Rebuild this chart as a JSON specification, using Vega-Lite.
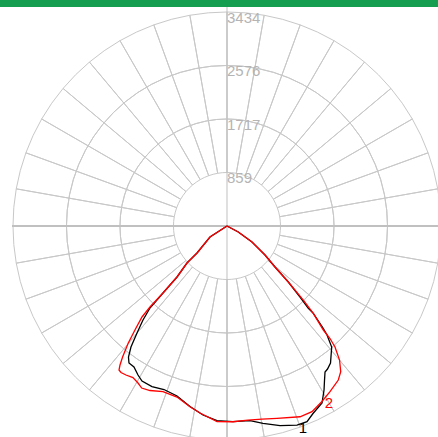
{
  "$schema": "https://vega.github.io/schema/vega-lite/v6.json",
  "width": 438,
  "height": 437,
  "autosize": {"type": "none"},
  "padding": 0,
  "background": "#ffffff",
  "config": {"view": {"stroke": null}, "axis": {"disable": true}},
  "datasets": {
    "wedges": [{"k":1},{"k":1},{"k":1},{"k":1},{"k":1},{"k":1},{"k":1},{"k":1},{"k":1},{"k":1},{"k":1},{"k":1},{"k":1},{"k":1},{"k":1},{"k":1},{"k":1},{"k":1},{"k":1},{"k":1},{"k":1},{"k":1},{"k":1},{"k":1},{"k":1},{"k":1},{"k":1},{"k":1},{"k":1},{"k":1},{"k":1},{"k":1},{"k":1},{"k":1},{"k":1},{"k":1}],
    "rings": [{"r": 1717}, {"r": 2576}],
    "ringLabels": [{"v": 859, "label": "859"}, {"v": 1717, "label": "1717"}, {"v": 2576, "label": "2576"}, {"v": 3434, "label": "3434"}],
    "curves": [
      {"s":"1","i":1,"x":0,"y":0},
      {"s":"1","i":2,"x":-273,"y":-177},
      {"s":"1","i":3,"x":-481,"y":-433},
      {"s":"1","i":4,"x":-642,"y":-594},
      {"s":"1","i":5,"x":-802,"y":-818},
      {"s":"1","i":6,"x":-1027,"y":-1075},
      {"s":"1","i":7,"x":-1236,"y":-1316},
      {"s":"1","i":8,"x":-1348,"y":-1509},
      {"s":"1","i":9,"x":-1444,"y":-1717},
      {"s":"1","i":10,"x":-1541,"y":-1942},
      {"s":"1","i":11,"x":-1581,"y":-2103},
      {"s":"1","i":12,"x":-1573,"y":-2199},
      {"s":"1","i":13,"x":-1493,"y":-2263},
      {"s":"1","i":14,"x":-1428,"y":-2391},
      {"s":"1","i":15,"x":-1364,"y":-2488},
      {"s":"1","i":16,"x":-1204,"y":-2576},
      {"s":"1","i":17,"x":-1011,"y":-2624},
      {"s":"1","i":18,"x":-802,"y":-2728},
      {"s":"1","i":19,"x":-594,"y":-2897},
      {"s":"1","i":20,"x":-385,"y":-3033},
      {"s":"1","i":21,"x":-160,"y":-3122},
      {"s":"1","i":22,"x":96,"y":-3138},
      {"s":"1","i":23,"x":369,"y":-3122},
      {"s":"1","i":24,"x":578,"y":-3167},
      {"s":"1","i":25,"x":851,"y":-3202},
      {"s":"1","i":26,"x":1123,"y":-3194},
      {"s":"1","i":27,"x":1284,"y":-3141},
      {"s":"1","i":28,"x":1380,"y":-3009},
      {"s":"1","i":29,"x":1525,"y":-2841},
      {"s":"1","i":30,"x":1557,"y":-2632},
      {"s":"1","i":31,"x":1565,"y":-2472},
      {"s":"1","i":32,"x":1573,"y":-2343},
      {"s":"1","i":33,"x":1613,"y":-2295},
      {"s":"1","i":34,"x":1661,"y":-2199},
      {"s":"1","i":35,"x":1680,"y":-1942},
      {"s":"1","i":36,"x":1605,"y":-1749},
      {"s":"1","i":37,"x":1541,"y":-1637},
      {"s":"1","i":38,"x":1385,"y":-1401},
      {"s":"1","i":39,"x":1305,"y":-1321},
      {"s":"1","i":40,"x":1172,"y":-1140},
      {"s":"1","i":41,"x":984,"y":-899},
      {"s":"1","i":42,"x":770,"y":-658},
      {"s":"1","i":43,"x":610,"y":-465},
      {"s":"1","i":44,"x":401,"y":-257},
      {"s":"1","i":45,"x":181,"y":-96},
      {"s":"1","i":46,"x":0,"y":0},
      {"s":"2","i":1,"x":0,"y":0},
      {"s":"2","i":2,"x":-273,"y":-177},
      {"s":"2","i":3,"x":-481,"y":-433},
      {"s":"2","i":4,"x":-642,"y":-594},
      {"s":"2","i":5,"x":-802,"y":-818},
      {"s":"2","i":6,"x":-1027,"y":-1075},
      {"s":"2","i":7,"x":-1236,"y":-1300},
      {"s":"2","i":8,"x":-1364,"y":-1460},
      {"s":"2","i":9,"x":-1477,"y":-1669},
      {"s":"2","i":10,"x":-1584,"y":-1878},
      {"s":"2","i":11,"x":-1674,"y":-2098},
      {"s":"2","i":12,"x":-1717,"y":-2231},
      {"s":"2","i":13,"x":-1733,"y":-2311},
      {"s":"2","i":14,"x":-1701,"y":-2351},
      {"s":"2","i":15,"x":-1621,"y":-2391},
      {"s":"2","i":16,"x":-1509,"y":-2432},
      {"s":"2","i":17,"x":-1428,"y":-2520},
      {"s":"2","i":18,"x":-1369,"y":-2600},
      {"s":"2","i":19,"x":-1236,"y":-2640},
      {"s":"2","i":20,"x":-1027,"y":-2659},
      {"s":"2","i":21,"x":-802,"y":-2745},
      {"s":"2","i":22,"x":-594,"y":-2900},
      {"s":"2","i":23,"x":-433,"y":-3001},
      {"s":"2","i":24,"x":-160,"y":-3138},
      {"s":"2","i":25,"x":96,"y":-3141},
      {"s":"2","i":26,"x":337,"y":-3114},
      {"s":"2","i":27,"x":562,"y":-3098},
      {"s":"2","i":28,"x":802,"y":-3086},
      {"s":"2","i":29,"x":1172,"y":-3061},
      {"s":"2","i":30,"x":1364,"y":-2980},
      {"s":"2","i":31,"x":1520,"y":-2820},
      {"s":"2","i":32,"x":1653,"y":-2659},
      {"s":"2","i":33,"x":1786,"y":-2472},
      {"s":"2","i":34,"x":1825,"y":-2338},
      {"s":"2","i":35,"x":1806,"y":-2151},
      {"s":"2","i":36,"x":1733,"y":-1942},
      {"s":"2","i":37,"x":1653,"y":-1806},
      {"s":"2","i":38,"x":1546,"y":-1669},
      {"s":"2","i":39,"x":1385,"y":-1401},
      {"s":"2","i":40,"x":1225,"y":-1188},
      {"s":"2","i":41,"x":984,"y":-899},
      {"s":"2","i":42,"x":770,"y":-658},
      {"s":"2","i":43,"x":610,"y":-465},
      {"s":"2","i":44,"x":401,"y":-257},
      {"s":"2","i":45,"x":181,"y":-96},
      {"s":"2","i":46,"x":0,"y":0}
    ],
    "curveLabels": [{"s": "1", "x": 1220, "y": -3235}, {"s": "2", "x": 1637, "y": -2841}]
  },
  "layer": [
    {
      "data": {"name": "wedges"},
      "mark": {"type": "arc", "filled": false, "stroke": "#c8c8c8", "strokeWidth": 1},
      "encoding": {
        "x": {"datum": 0, "type": "quantitative", "scale": {"domain": [-3642.6, 3385.9], "nice": false, "zero": false}},
        "y": {"datum": 0, "type": "quantitative", "scale": {"domain": [-3385.9, 3626.6], "nice": false, "zero": false}},
        "theta": {"field": "k", "type": "quantitative", "stack": true},
        "radius": {"datum": 3434, "type": "quantitative", "scale": {"type": "linear", "domain": [0, 3434], "range": [0, 214], "zero": true, "nice": false}},
        "radius2": {"datum": 859}
      }
    },
    {
      "data": {"name": "rings"},
      "mark": {"type": "arc", "filled": false, "stroke": "#c8c8c8", "strokeWidth": 1, "theta": 0, "theta2": 6.2832},
      "encoding": {
        "x": {"datum": 0, "type": "quantitative"},
        "y": {"datum": 0, "type": "quantitative"},
        "radius": {"field": "r", "type": "quantitative"},
        "radius2": {"field": "r"}
      }
    },
    {
      "data": {"values": [{}]},
      "mark": {"type": "rule", "stroke": "#c0c0c0", "strokeWidth": 2},
      "encoding": {
        "x": {"datum": -3450, "type": "quantitative"},
        "x2": {"datum": 3385.9},
        "y": {"datum": 0, "type": "quantitative"}
      }
    },
    {
      "data": {"values": [{}]},
      "mark": {"type": "rule", "stroke": "#c0c0c0", "strokeWidth": 1},
      "encoding": {
        "x": {"datum": 0, "type": "quantitative"},
        "y": {"datum": -3385.9, "type": "quantitative"},
        "y2": {"datum": 3626.6}
      }
    },
    {
      "data": {"name": "ringLabels"},
      "mark": {"type": "text", "align": "left", "baseline": "top", "dx": 0, "dy": -1, "font": "Liberation Sans", "fontSize": 15, "color": "#b4b4b4"},
      "encoding": {
        "x": {"datum": 0, "type": "quantitative"},
        "y": {"field": "v", "type": "quantitative"},
        "text": {"field": "label"}
      }
    },
    {
      "data": {"values": [{}]},
      "mark": {"type": "rect", "color": "#169e50"},
      "encoding": {
        "x": {"datum": -3642.6, "type": "quantitative"},
        "x2": {"datum": 3385.9},
        "y": {"datum": 3626.6, "type": "quantitative"},
        "y2": {"datum": 3514}
      }
    },
    {
      "data": {"name": "curves"},
      "mark": {"type": "line", "strokeWidth": 1.3, "interpolate": "linear"},
      "encoding": {
        "x": {"field": "x", "type": "quantitative", "axis": null},
        "y": {"field": "y", "type": "quantitative", "axis": null},
        "order": {"field": "i", "type": "quantitative"},
        "color": {"field": "s", "type": "nominal", "scale": {"domain": ["1", "2"], "range": ["#000000", "#ff0000"]}, "legend": null}
      }
    },
    {
      "data": {"name": "curveLabels"},
      "mark": {"type": "text", "align": "center", "baseline": "middle", "font": "Liberation Sans", "fontSize": 15},
      "encoding": {
        "x": {"field": "x", "type": "quantitative"},
        "y": {"field": "y", "type": "quantitative"},
        "text": {"field": "s"},
        "color": {"field": "s", "type": "nominal", "scale": {"domain": ["1", "2"], "range": ["#000000", "#ff0000"]}, "legend": null}
      }
    }
  ]
}
